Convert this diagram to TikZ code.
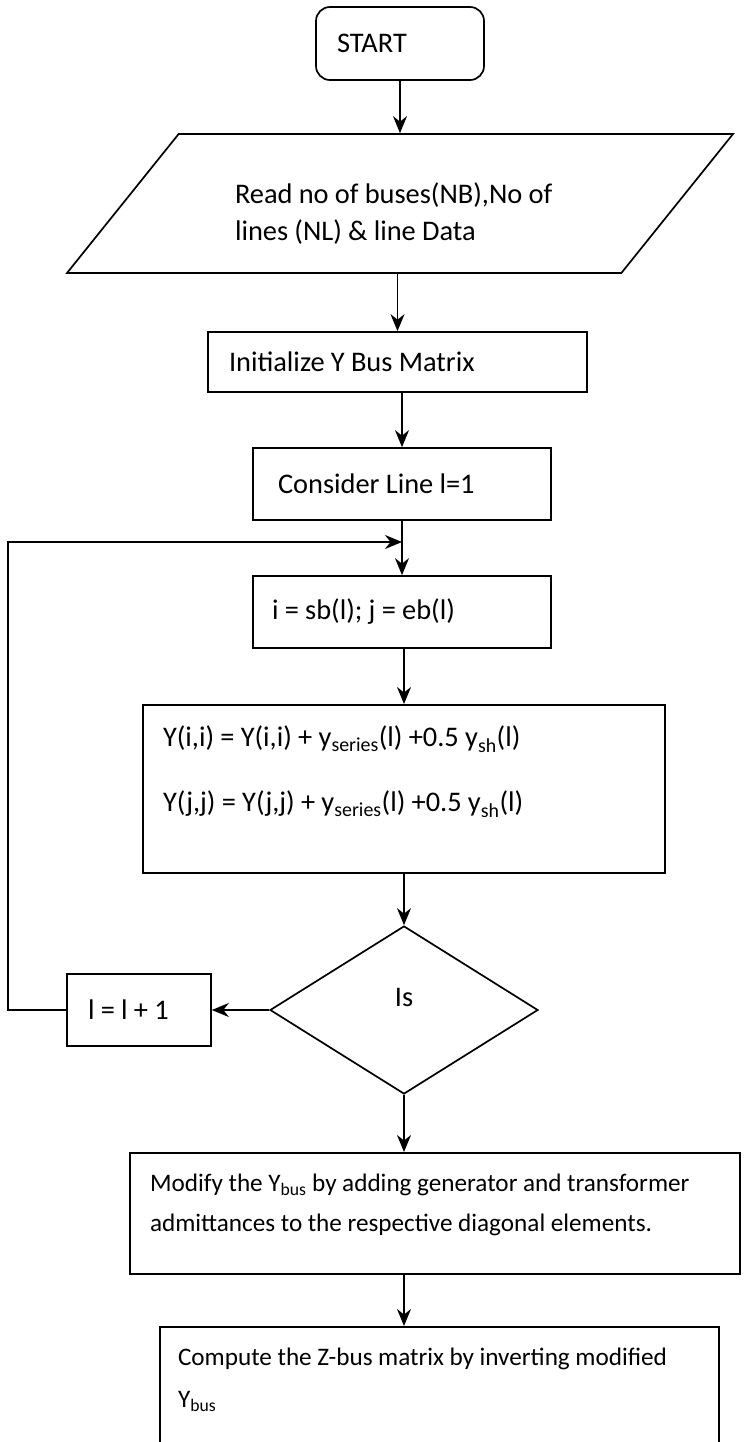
\documentclass[tikz,border=0pt]{standalone}
\usepackage{fontspec}
\setmainfont{Carlito}
\usetikzlibrary{shapes.geometric,arrows.meta}

\begin{document}
\begin{tikzpicture}[x=1pt,y=-1pt,line width=1.7pt,
  font=\fontsize{28.4}{37}\selectfont,
  execute at begin node={\spaceskip=0.22em\relax},
  box/.style={draw,rectangle,align=left,inner xsep=21pt},
  small/.style={font=\fontsize{25.2}{34}\selectfont},
  flow/.style={-{Stealth[length=17pt,width=14pt]}}]
\useasboundingbox (0,0) rectangle (754,1442);
\fill[white] (0,0) rectangle (754,1442);
\clip (0,0) rectangle (754,1442);

\node[box,rounded corners=14pt,text width=126pt,minimum height=73pt] (start) at (400,43.5) {START};
\node[draw,trapezium,trapezium left angle=40,trapezium right angle=140,trapezium stretches body,
  minimum width=666pt,minimum height=139pt,align=left,text width=330pt,inner xsep=2pt,
  text height=44pt,text depth=43pt] (read) at (400,203.5)
  {\mbox{Read no of buses(NB),No of}\\\mbox{lines (NL) \& line Data}};
\node[box,text width=337pt,minimum height=60pt] (init) at (397.5,362) {\mbox{Initialize Y Bus Matrix}};
\node[box,inner xsep=25pt,text width=248pt,minimum height=72pt] (consider) at (402,484) {\mbox{Consider Line l=1}};
\node[box,inner xsep=19pt,text width=260pt,minimum height=72pt] (calc) at (402,612) {\mbox{i = sb(l); j = eb(l)}};
\node[box,anchor=north,inner xsep=20pt,text width=482pt,inner ysep=20pt,
  text height=22pt,text depth=106pt] (update) at (404,704)
  {\mbox{Y(i,i) = Y(i,i) + y\textsubscript{series}(l) +0.5 y\textsubscript{sh}(l)}\\[28pt]
   \mbox{Y(j,j) = Y(j,j) + y\textsubscript{series}(l) +0.5 y\textsubscript{sh}(l)}};
\node[draw,diamond,minimum width=268pt,minimum height=168pt,text depth=26pt] (check) at (404,1010) {Is};
\node[box,text width=102pt,minimum height=72pt] (incr) at (139,1010) {\mbox{l = l + 1}};
\node[box,small,anchor=north,inner xsep=20pt,text width=570pt,inner ysep=20pt,
  text height=19pt,text depth=62pt] (modify) at (435,1152)
  {\mbox{Modify the Y\textsubscript{bus} by adding generator and transformer}\\[6pt]
   \mbox{admittances to the respective diagonal elements.}};
\node[box,small,anchor=north,inner xsep=18pt,text width=523pt,inner ysep=20pt,
  text height=19pt,text depth=87pt] (compute) at (439.5,1326)
  {\mbox{Compute the Z-bus matrix by inverting modified}\\[8pt]
   Y\textsubscript{bus}};

\coordinate (back) at (8,542);
\coordinate (join) at (402,542);

\draw[flow] (start) -- (start |- read.north);
\draw[flow] (init.north |- read.south) -- (init.north);
\draw[flow] (consider.north |- init.south) -- (consider.north);
\draw[flow] (consider.south) -- (calc.north);
\draw[flow] (update.north |- calc.south) -- (update.north);
\draw[flow] (update.south) -- (check.north);
\draw[flow] (check.west) -- (incr.east);
\draw[flow] (incr.west) -| (back) -- (join);
\draw[flow] (check.south) -- (check.south |- modify.north);
\draw[flow] (check.south |- modify.south) -- (check.south |- compute.north);
\end{tikzpicture}
\end{document}
